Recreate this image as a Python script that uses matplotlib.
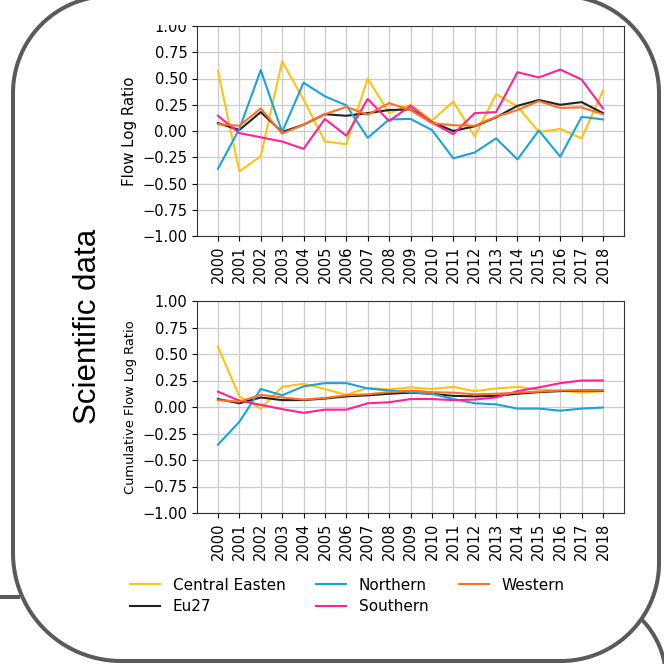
import numpy as np
import matplotlib
matplotlib.use("Agg")
import matplotlib.pyplot as plt
from matplotlib.path import Path
from matplotlib.patches import PathPatch, Rectangle

years = [str(y) for y in range(2000, 2019)]
series_names = ["Central Easten", "Eu27", "Northern", "Southern", "Western"]
colors = {"Central Easten": "#FFC20E", "Eu27": "#222222", "Northern": "#1AA3DB",
          "Southern": "#FF2296", "Western": "#FF7022"}

flow_central = [0.57, -0.385, -0.24, 0.665, 0.30, -0.10, -0.125, 0.50, 0.17, 0.25,
                0.10, 0.28, -0.05, 0.35, 0.235, -0.01, 0.02, -0.07, 0.385]
flow_northern = [-0.36, 0.02, 0.58, -0.01, 0.46, 0.33, 0.245, -0.065, 0.11, 0.115,
                 0.01, -0.26, -0.205, -0.07, -0.27, 0.005, -0.245, 0.135, 0.11]
flow_southern = [0.145, -0.02, -0.06, -0.10, -0.17, 0.115, -0.045, 0.305, 0.095, 0.24,
                 0.08, -0.03, 0.17, 0.18, 0.56, 0.51, 0.585, 0.49, 0.215]
flow_eu27 = [0.075, 0.01, 0.18, -0.01, 0.06, 0.16, 0.145, 0.17, 0.20, 0.205,
             0.085, 0.00, 0.045, 0.13, 0.24, 0.295, 0.25, 0.275, 0.17]
flow_western = [0.065, 0.05, 0.215, -0.025, 0.06, 0.16, 0.23, 0.155, 0.265, 0.20,
                0.075, 0.055, 0.05, 0.135, 0.20, 0.285, 0.22, 0.225, 0.16]

cum_central = [0.57, 0.10, -0.015, 0.19, 0.22, 0.17, 0.115, 0.18, 0.165, 0.185,
               0.17, 0.19, 0.15, 0.175, 0.19, 0.165, 0.155, 0.135, 0.15]
cum_northern = [-0.355, -0.14, 0.17, 0.11, 0.195, 0.225, 0.225, 0.175, 0.155, 0.14,
                0.125, 0.075, 0.035, 0.025, -0.015, -0.015, -0.035, -0.015, -0.005]
cum_southern = [0.145, 0.06, 0.02, -0.02, -0.055, -0.025, -0.025, 0.035, 0.045, 0.075,
                0.075, 0.065, 0.07, 0.09, 0.15, 0.185, 0.225, 0.25, 0.25]
cum_eu27 = [0.075, 0.035, 0.09, 0.065, 0.065, 0.08, 0.10, 0.11, 0.125, 0.135,
            0.125, 0.105, 0.10, 0.105, 0.125, 0.14, 0.15, 0.155, 0.155]
cum_western = [0.065, 0.05, 0.115, 0.09, 0.07, 0.085, 0.11, 0.12, 0.14, 0.155,
               0.14, 0.135, 0.12, 0.125, 0.135, 0.145, 0.155, 0.16, 0.16]

flow = {"Central Easten": flow_central, "Eu27": flow_eu27, "Northern": flow_northern,
        "Southern": flow_southern, "Western": flow_western}
cum = {"Central Easten": cum_central, "Eu27": cum_eu27, "Northern": cum_northern,
       "Southern": cum_southern, "Western": cum_western}
yticks = [-1.0, -0.75, -0.5, -0.25, 0.0, 0.25, 0.5, 0.75, 1.0]

W = H = 664
fig = plt.figure(figsize=(6.64, 6.64), dpi=100)

def fr(x0, y0, x1, y1):
    return [x0 / W, 1 - y1 / H, (x1 - x0) / W, (y1 - y0) / H]

# background decorations (pixel coords)
bg = fig.add_axes([0, 0, 1, 1], zorder=0)
bg.set_xlim(0, W); bg.set_ylim(H, 0); bg.axis("off")
edge = "#5a5a5a"; lw = 2.9
bg.plot([0, 20], [597, 597], color=edge, lw=lw, solid_capstyle="butt", zorder=0.5)
t = np.radians(np.linspace(-5, 60, 60))
bg.plot(581 + 85 * np.cos(t), 679 - 85 * np.sin(t), color=edge, lw=lw, zorder=0.5)

def rounded_card(x0, y0, x1, y1, rtl, rtr, rbr, rbl):
    pts = []
    def arc(cx, cy, r, a0, a1):
        a = np.radians(np.linspace(a0, a1, 40))
        return [(cx + r * np.cos(v), cy + r * np.sin(v)) for v in a]
    pts += arc(x0 + rtl, y0 + rtl, rtl, 180, 270)
    pts += arc(x1 - rtr, y0 + rtr, rtr, 270, 360)
    pts += arc(x1 - rbr, y1 - rbr, rbr, 0, 90)
    pts += arc(x0 + rbl, y1 - rbl, rbl, 90, 180)
    pts.append(pts[0])
    return Path(pts)

card = PathPatch(rounded_card(13, -4, 659, 661, 97, 97, 98, 108), facecolor="white",
                 edgecolor=edge, lw=lw, zorder=1)
bg.add_patch(card)
bg.text(88, 326, "Scientific data", rotation=90, ha="center", va="center",
        fontsize=22.5, family="Liberation Sans", color="black", zorder=2)

x = np.arange(len(years))

def make_ax(rect, data, ylabel, ylsize):
    ax = fig.add_axes(rect, zorder=2)
    for name in series_names:
        ax.plot(x, data[name], color=colors[name], lw=1.5, label=name)
    ax.set_xlim(-0.98, len(years) - 1 + 0.98)
    ax.set_ylim(-1, 1)
    ax.set_yticks(yticks)
    ax.set_yticklabels([f"{v:.2f}".replace("-", "\u2212") for v in yticks], fontsize=10.5)
    ax.set_xticks(x)
    ax.set_xticklabels(years, rotation=90, fontsize=10.5)
    ax.grid(True, color="#cccccc", lw=0.9)
    ax.set_axisbelow(True)
    ax.set_ylabel(ylabel, fontsize=ylsize)
    for s in ax.spines.values():
        s.set_color("#333333")
    return ax

ax1 = make_ax(fr(197, 26, 624, 236), flow, "Flow Log Ratio", 10.8)
ax2 = make_ax(fr(197, 301, 624, 513), cum, "Cumulative Flow Log Ratio", 9.4)

handles, labels = ax1.get_legend_handles_labels()
fig.legend(handles, labels, ncol=3, loc="center left",
           bbox_to_anchor=(116 / W, 1 - 596 / H),
           frameon=False, fontsize=11, handlelength=2.0, columnspacing=2.0,
           labelspacing=0.45)

# cut top of the chart image like the reference
top_mask = fig.add_axes([0, 0, 1, 1], zorder=5)
top_mask.set_xlim(0, W); top_mask.set_ylim(H, 0); top_mask.axis("off")
top_mask.patch.set_alpha(0)
top_mask.add_patch(Rectangle((140, 0), 55, 25, facecolor="white", edgecolor="none"))

fig.savefig("out.png", dpi=100)
